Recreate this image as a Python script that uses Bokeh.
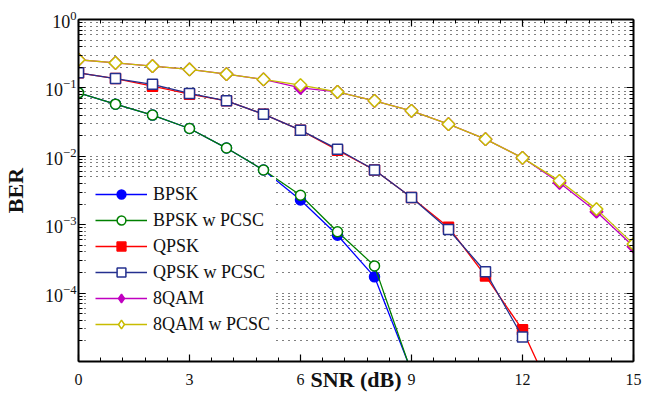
import numpy as np
from bokeh.plotting import figure
from bokeh.models import FixedTicker, LinearAxis, LogAxis, Range1d, Legend, LegendItem
from bokeh.embed import file_html
from bokeh.resources import INLINE

# ---------------- data ----------------
snr = [0, 1, 2, 3, 4, 5, 6, 7, 8, 9, 10, 11, 12, 13, 14, 15]

bpsk      = [0.0847, 0.0578, 0.040, 0.0255, 0.0132, 0.0063, 0.0023, 7.0e-4, 1.73e-4, 7.2e-6]
bpsk_pcsc = [0.0847, 0.0578, 0.040, 0.0255, 0.0132, 0.0063, 0.0027, 7.9e-4, 2.5e-4, 6.9e-6]

qpsk      = [0.166, 0.137, 0.106, 0.081, 0.0647, 0.0413, 0.0241, 0.0123, 0.0063, 0.0025,
             9.2e-4, 1.78e-4, 2.9e-5, 1.95e-6]
qpsk_pcsc = [0.166, 0.137, 0.113, 0.083, 0.0647, 0.0413, 0.0241, 0.0127, 0.0063, 0.0025,
             8.5e-4, 2.05e-4, 2.28e-5]

qam8      = [0.258, 0.232, 0.208, 0.186, 0.159, 0.133, 0.100, 0.0875, 0.0647, 0.0462,
             0.0295, 0.0178, 0.0095, 0.0041, 0.00155, 4.8e-4]
qam8_pcsc = [0.258, 0.232, 0.208, 0.186, 0.159, 0.133, 0.110, 0.0875, 0.0647, 0.0462,
             0.0295, 0.0178, 0.0095, 0.00438, 0.00169, 5.2e-4]

x_tick_values = [0, 3, 6, 9, 12, 15]
y_tick_values = [1e0, 1e-1, 1e-2, 1e-3, 1e-4]

FONT = "Liberation Serif"

# ---------------- figure ----------------
p = figure(width=656, height=395, x_range=Range1d(0, 15), y_range=Range1d(1e-5, 1),
           y_axis_type="log", output_backend="svg", toolbar_location=None,
           min_border_left=78, min_border_right=23, min_border_top=19, min_border_bottom=34)
p.outline_line_color = None
p.background_fill_color = "white"

x_minor = [round(v, 2) for v in np.arange(0, 15.01, 0.6)]
y_minor = [m * 10.0 ** e for e in range(-5, 0) for m in range(2, 10)]
xticker = FixedTicker(ticks=x_tick_values, minor_ticks=x_minor)
yticker = FixedTicker(ticks=y_tick_values, minor_ticks=y_minor)


def style_axis(ax, ticks, labels=True):
    ax.axis_line_width = 2
    ax.axis_line_color = "black"
    ax.major_tick_in = 7
    ax.major_tick_out = 0
    ax.minor_tick_in = 4
    ax.minor_tick_out = 0
    ax.major_tick_line_width = 1.2
    ax.minor_tick_line_width = 1
    ax.major_tick_line_color = "black"
    ax.minor_tick_line_color = "black"
    if labels:
        ax.major_label_text_font = FONT
        ax.major_label_text_font_size = "16px"
        ax.major_label_text_color = "#111111"
        ax.axis_label_text_font = FONT
        ax.axis_label_text_font_size = "22px"
        ax.axis_label_text_font_style = "bold"
        ax.axis_label_text_color = "#111111"
    else:
        ax.major_label_overrides = {t: "" for t in ticks}
        ax.major_label_text_font_size = "1px"
        ax.major_label_standoff = 0


bx = p.xaxis[0]
bx.ticker = xticker
style_axis(bx, x_tick_values)
bx.major_label_standoff = 12
bx.axis_label = "SNR (dB)"
bx.axis_label_standoff = -21

ly = p.yaxis[0]
ly.ticker = yticker
style_axis(ly, y_tick_values)
ly.major_label_text_font_size = "18px"
ly.major_label_standoff = 2
ly.axis_label = "BER"
ly.axis_label_standoff = 14

top = LinearAxis(ticker=xticker)
style_axis(top, x_tick_values, labels=False)
p.add_layout(top, "above")
right = LogAxis(ticker=yticker)
style_axis(right, y_tick_values, labels=False)
p.add_layout(right, "right")

p.xgrid.visible = False
g = p.ygrid[0]
g.ticker = yticker
g.grid_line_color = "black"
g.grid_line_dash = "1 5"
g.grid_line_width = 1
g.minor_grid_line_color = "black"
g.minor_grid_line_dash = "1 5"
g.minor_grid_line_width = 1

# ---------------- series ----------------
series = [
    ("BPSK", bpsk, "#0000ff", "circle", "#0000ff", 10, False),
    ("BPSK w PCSC", bpsk_pcsc, "#008000", "circle", "white", 10, False),
    ("QPSK", qpsk, "#ff0000", "square", "#ff0000", 10, False),
    ("QPSK w PCSC", qpsk_pcsc, "#24308f", "square", "white", 10, False),
    ("8QAM", qam8, "#c000c0", "diamond", "#c000c0", 12, True),
    ("8QAM w PCSC", qam8_pcsc, "#c8bc00", "diamond", "white", 12, True),
]
items = []
for name, vals, color, marker, fill, size, rotated in series:
    xs = snr[:len(vals)]
    r_line = p.line(xs, vals, line_color=color, line_width=1.3)
    r_mark = p.scatter(xs, vals, marker=marker, size=size, line_color=color,
                       fill_color=fill, line_width=1.5)
    if rotated:
        # a 45-degree square on top gives the equal-sided diamond; legend keeps the diamond
        p.scatter(xs, vals, marker="square", size=9, angle=np.pi / 4, line_color=color,
                  fill_color=fill, line_width=1.5)
    items.append(LegendItem(label=name, renderers=[r_line, r_mark]))

# ---------------- legend ----------------
lg = Legend(items=items, location=(11, 20))
lg.background_fill_color = "white"
lg.background_fill_alpha = 1
lg.border_line_alpha = 0
lg.padding = 6
lg.margin = 0
lg.spacing = 4
lg.label_height = 20
lg.glyph_height = 22
lg.glyph_width = 52
lg.label_standoff = 6
lg.label_text_font = FONT
lg.label_text_font_size = "18px"
lg.label_text_color = "#111111"
p.add_layout(lg)

open("out.html", "w").write(file_html(p, INLINE))
